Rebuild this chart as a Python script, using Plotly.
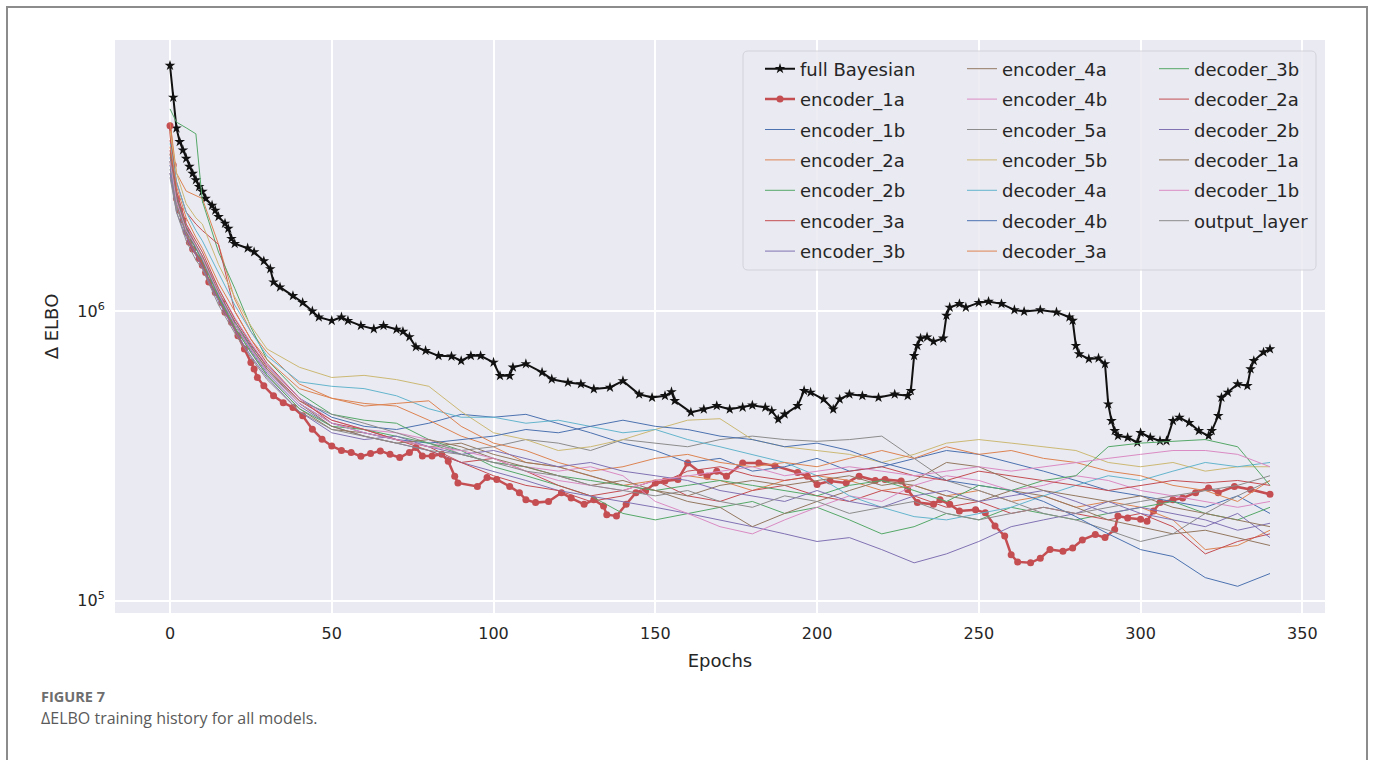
import plotly.graph_objects as go

# ---------------- data ----------------
# full Bayesian (epoch, value)
fb_epochs = [0, 1, 2, 3, 4, 5, 6, 7, 8, 9, 10, 11, 13, 14, 15, 17, 18, 19, 20, 24, 26, 29, 31, 32, 34, 38, 41, 44, 46,
             50, 53, 55, 59, 63, 66, 70, 72, 74, 76, 79, 83, 87, 90, 93, 96, 100, 102, 105, 106, 110, 115, 118, 123,
             127, 131, 136, 140, 145, 149, 153, 155, 156, 161, 165, 169, 173, 177, 180, 184, 186, 188, 190, 194, 196,
             198, 202, 205, 207, 210, 214, 219, 224, 228, 229, 230, 231, 232, 234, 236, 239, 240, 241, 244, 246, 250,
             253, 257, 261, 264, 269, 274, 278, 279, 280, 281, 284, 287, 289, 290, 291, 292, 293, 296, 299, 300, 303,
             306, 308, 310, 312, 315, 318, 321, 322, 324, 325, 327, 330, 333, 334, 335, 338, 340]
fb_values = [7.06e6, 5.48e6, 4.29e6, 3.85e6, 3.60e6, 3.37e6, 3.16e6, 2.99e6, 2.84e6, 2.69e6, 2.59e6, 2.45e6, 2.32e6,
             2.23e6, 2.12e6, 2.01e6, 1.93e6, 1.78e6, 1.71e6, 1.65e6, 1.60e6, 1.49e6, 1.40e6, 1.26e6, 1.21e6, 1.13e6,
             1.07e6, 1.00e6, 9.53e5, 9.27e5, 9.53e5, 9.27e5, 8.91e5, 8.68e5, 8.91e5, 8.65e5, 8.50e5, 8.15e5, 7.52e5,
             7.30e5, 7.01e5, 6.98e5, 6.74e5, 7.01e5, 7.01e5, 6.65e5, 5.98e5, 5.98e5, 6.40e5, 6.57e5, 6.14e5, 5.82e5,
             5.67e5, 5.60e5, 5.38e5, 5.45e5, 5.74e5, 5.16e5, 5.03e5, 5.10e5, 5.26e5, 4.90e5, 4.47e5, 4.58e5, 4.71e5,
             4.58e5, 4.65e5, 4.73e5, 4.65e5, 4.52e5, 4.23e5, 4.40e5, 4.71e5, 5.31e5, 5.24e5, 4.96e5, 4.58e5, 4.96e5,
             5.16e5, 5.10e5, 5.03e5, 5.16e5, 5.10e5, 5.31e5, 7.01e5, 7.60e5, 8.06e5, 8.13e5, 7.85e5, 8.06e5, 9.66e5,
             1.03e6, 1.06e6, 1.03e6, 1.07e6, 1.08e6, 1.06e6, 1.01e6, 9.97e5, 1.01e6, 9.92e5, 9.53e5, 9.28e5, 7.60e5,
             7.11e5, 6.84e5, 6.88e5, 6.57e5, 4.77e5, 4.18e5, 3.86e5, 3.71e5, 3.66e5, 3.52e5, 3.80e5, 3.66e5, 3.56e5,
             3.56e5, 4.18e5, 4.29e5, 4.12e5, 3.86e5, 3.71e5, 3.86e5, 4.35e5, 5.03e5, 5.24e5, 5.60e5, 5.52e5, 6.31e5,
             6.74e5, 7.21e5, 7.40e5]

# encoder_1a (epoch, value)
e1a_epochs = [0, 1, 2, 3, 4, 5, 6, 7, 9, 10, 11, 12, 14, 16, 17, 19, 21, 23, 25, 26, 27, 29, 32, 35, 38, 41, 44, 47,
              50, 53, 56, 59, 62, 65, 68, 71, 74, 76, 78, 81, 84, 86, 88, 89, 95, 98, 101, 105, 108, 110, 113, 117,
              121, 124, 128, 131, 134, 135, 138, 141, 144, 147, 150, 153, 157, 160, 164, 166, 169, 172, 177, 182, 187,
              194, 197, 200, 204, 209, 213, 218, 221, 226, 228, 231, 236, 238, 241, 244, 249, 252, 255, 258, 260, 262,
              266, 269, 272, 276, 279, 282, 286, 289, 292, 293, 296, 300, 302, 304, 306, 310, 313, 317, 321, 324, 329,
              334, 340]
e1a_values = [4.37e6, 3.20e6, 2.45e6, 2.23e6, 2.06e6, 1.88e6, 1.73e6, 1.64e6, 1.52e6, 1.44e6, 1.36e6, 1.26e6, 1.16e6,
              1.07e6, 9.92e5, 9.16e5, 8.23e5, 7.40e5, 6.65e5, 6.31e5, 5.90e5, 5.52e5, 5.10e5, 4.83e5, 4.65e5, 4.35e5,
              3.91e5, 3.61e5, 3.42e5, 3.30e5, 3.25e5, 3.15e5, 3.22e5, 3.29e5, 3.20e5, 3.12e5, 3.25e5, 3.38e5, 3.16e5,
              3.16e5, 3.20e5, 3.03e5, 2.69e5, 2.55e5, 2.48e5, 2.66e5, 2.62e5, 2.48e5, 2.36e5, 2.23e5, 2.18e5, 2.20e5,
              2.36e5, 2.26e5, 2.15e5, 2.23e5, 2.12e5, 1.98e5, 1.96e5, 2.15e5, 2.36e5, 2.39e5, 2.55e5, 2.59e5, 2.62e5,
              2.99e5, 2.77e5, 2.69e5, 2.80e5, 2.69e5, 2.99e5, 2.99e5, 2.92e5, 2.77e5, 2.69e5, 2.52e5, 2.59e5, 2.55e5,
              2.69e5, 2.60e5, 2.62e5, 2.59e5, 2.42e5, 2.18e5, 2.15e5, 2.23e5, 2.15e5, 2.04e5, 2.06e5, 2.01e5, 1.81e5,
              1.67e5, 1.44e5, 1.36e5, 1.35e5, 1.40e5, 1.50e5, 1.48e5, 1.52e5, 1.62e5, 1.69e5, 1.65e5, 1.76e5, 1.96e5,
              1.93e5, 1.91e5, 1.88e5, 2.04e5, 2.18e5, 2.23e5, 2.26e5, 2.36e5, 2.45e5, 2.36e5, 2.48e5, 2.42e5, 2.33e5]

# thin-line series share these epochs
thin_epochs = [0, 2, 5, 8, 10, 15, 20, 25, 30, 40,
               50, 60, 70, 80, 90, 100, 110, 120, 130, 140, 150, 160, 170, 180, 190, 200, 210, 220, 230, 240,
               250, 260, 270, 280, 290, 300, 310, 320, 330, 340]

encoder_1b = [3.4e6, 2.5e6, 1.95e6, 1.65e6, 1.5e6, 1.15e6, 9.2e5, 7.6e5, 6.5e5, 5.0e5,
              4.3e5, 4.0e5, 3.9e5, 4.1e5, 4.4e5, 4.3e5, 4.4e5, 4.1e5, 3.8e5, 3.5e5, 3.3e5, 3.0e5, 3.1e5, 2.8e5, 2.9e5,
              3.1e5, 2.8e5, 2.9e5, 3.1e5, 3.3e5, 3.2e5, 3.0e5, 2.8e5, 2.6e5, 2.4e5, 2.3e5, 2.2e5, 2.1e5, 2.3e5, 2.0e5]
encoder_2a = [4.5e6, 3.0e6, 2.6e6, 2.5e6, 2.45e6, 1.7e6, 1.1e6, 8.5e5, 7.2e5, 5.6e5,
              5.0e5, 4.8e5, 4.7e5, 4.2e5, 3.7e5, 3.4e5, 3.0e5, 2.9e5, 2.7e5, 2.5e5, 2.6e5, 2.7e5, 2.6e5, 2.4e5, 2.6e5,
              2.7e5, 2.6e5, 2.4e5, 2.5e5, 2.3e5, 2.4e5, 2.2e5, 2.3e5, 2.1e5, 2.2e5, 2.1e5, 1.9e5, 1.5e5, 1.55e5, 1.75e5]
encoder_2b = [5.0e6, 4.5e6, 4.3e6, 4.1e6, 2.4e6, 1.6e6, 1.2e6, 8.8e5, 6.8e5, 5.2e5,
              4.4e5, 4.2e5, 4.1e5, 3.6e5, 3.3e5, 2.9e5, 2.7e5, 2.5e5, 2.3e5, 2.0e5, 1.9e5, 2.0e5, 2.1e5, 2.2e5, 2.0e5,
              2.1e5, 1.9e5, 1.7e5, 1.8e5, 2.0e5, 1.9e5, 2.1e5, 2.0e5, 1.9e5, 2.0e5, 2.1e5, 2.2e5, 2.0e5, 1.9e5, 2.1e5]
encoder_3a = [3.9e6, 2.8e6, 2.2e6, 2.0e6, 1.9e6, 1.7e6, 1.0e6, 8.0e5, 6.6e5, 5.0e5,
              4.1e5, 3.9e5, 3.6e5, 3.4e5, 3.0e5, 3.1e5, 2.8e5, 2.5e5, 2.3e5, 2.4e5, 2.6e5, 2.3e5, 2.2e5, 2.4e5, 2.5e5,
              2.3e5, 2.2e5, 2.4e5, 2.3e5, 2.1e5, 2.2e5, 2.0e5, 2.1e5, 2.0e5, 1.9e5, 2.0e5, 1.8e5, 1.45e5, 1.6e5, 1.7e5]
encoder_3b = [3.3e6, 2.4e6, 1.9e6, 1.7e6, 1.55e6, 1.15e6, 9.0e5, 7.3e5, 6.1e5, 4.7e5,
              4.0e5, 3.7e5, 3.5e5, 3.3e5, 3.0e5, 2.8e5, 2.6e5, 2.4e5, 2.3e5, 2.2e5, 2.1e5, 2.0e5, 1.9e5, 1.8e5, 1.7e5,
              1.6e5, 1.65e5, 1.5e5, 1.35e5, 1.45e5, 1.6e5, 1.8e5, 1.9e5, 2.0e5, 2.2e5, 2.0e5, 1.9e5, 1.8e5, 2.0e5, 1.65e5]
encoder_4a = [3.0e6, 2.3e6, 1.85e6, 1.6e6, 1.45e6, 1.1e6, 8.8e5, 7.2e5, 6.0e5, 4.6e5,
              3.9e5, 3.8e5, 3.6e5, 3.4e5, 3.5e5, 3.2e5, 3.0e5, 2.9e5, 2.7e5, 2.5e5, 2.4e5, 2.2e5, 2.1e5, 1.8e5, 2.0e5,
              2.2e5, 2.4e5, 2.6e5, 2.5e5, 2.3e5, 2.2e5, 2.4e5, 2.3e5, 2.1e5, 1.9e5, 1.8e5, 1.7e5, 1.75e5, 1.65e5, 1.55e5]
encoder_4b = [3.5e6, 2.6e6, 2.0e6, 1.7e6, 1.55e6, 1.2e6, 9.5e5, 7.8e5, 6.5e5, 5.0e5,
              4.2e5, 3.9e5, 3.8e5, 3.6e5, 3.2e5, 3.0e5, 2.9e5, 2.8e5, 2.9e5, 2.7e5, 2.2e5, 2.0e5, 1.8e5, 1.7e5, 1.9e5,
              2.1e5, 2.3e5, 2.2e5, 2.5e5, 2.7e5, 2.6e5, 2.4e5, 2.5e5, 2.7e5, 2.6e5, 2.4e5, 2.3e5, 2.2e5, 2.1e5, 2.2e5]
encoder_5a = [3.1e6, 2.3e6, 1.85e6, 1.6e6, 1.5e6, 1.12e6, 9.0e5, 7.5e5, 6.3e5, 4.9e5,
              4.4e5, 4.1e5, 3.8e5, 3.5e5, 3.3e5, 3.4e5, 3.6e5, 3.5e5, 3.3e5, 3.6e5, 3.5e5, 3.4e5, 3.6e5, 3.7e5, 3.6e5,
              3.55e5, 3.6e5, 3.7e5, 3.1e5, 2.6e5, 2.4e5, 2.2e5, 2.0e5, 1.9e5, 1.75e5, 1.6e5, 1.7e5, 2.0e5, 2.3e5, 2.6e5]
encoder_5b = [4.2e6, 3.0e6, 2.35e6, 2.1e6, 2.0e6, 1.45e6, 1.12e6, 8.9e5, 7.4e5, 6.4e5,
              5.9e5, 6.0e5, 5.8e5, 5.5e5, 4.5e5, 3.8e5, 3.6e5, 3.3e5, 3.4e5, 3.6e5, 3.9e5, 4.2e5, 4.25e5, 3.6e5, 3.4e5,
              3.3e5, 3.2e5, 3.0e5, 3.2e5, 3.5e5, 3.6e5, 3.5e5, 3.4e5, 3.3e5, 3.0e5, 2.9e5, 3.0e5, 2.8e5, 2.9e5, 2.9e5]
decoder_4a = [3.8e6, 2.8e6, 2.2e6, 1.9e6, 1.75e6, 1.35e6, 1.05e6, 8.5e5, 7.0e5, 5.7e5,
              5.5e5, 5.4e5, 5.1e5, 4.6e5, 4.3e5, 4.3e5, 4.1e5, 4.2e5, 4.0e5, 3.8e5, 3.9e5, 3.6e5, 3.4e5, 3.2e5, 3.0e5,
              2.7e5, 2.3e5, 2.1e5, 1.95e5, 1.9e5, 2.0e5, 2.1e5, 2.3e5, 2.5e5, 2.7e5, 2.6e5, 2.8e5, 3.0e5, 2.9e5, 3.0e5]
decoder_4b = [3.2e6, 2.4e6, 1.9e6, 1.65e6, 1.5e6, 1.13e6, 9.0e5, 7.4e5, 6.2e5, 4.8e5,
              4.1e5, 3.8e5, 3.6e5, 3.5e5, 3.6e5, 3.7e5, 3.9e5, 3.8e5, 4.0e5, 4.2e5, 4.0e5, 3.9e5, 3.7e5, 3.6e5, 3.4e5,
              3.5e5, 3.3e5, 3.0e5, 2.8e5, 2.6e5, 2.5e5, 2.4e5, 2.2e5, 1.95e5, 1.7e5, 1.5e5, 1.42e5, 1.2e5, 1.12e5, 1.24e5]
decoder_3a = [3.7e6, 2.7e6, 2.1e6, 1.8e6, 1.65e6, 1.25e6, 1.0e6, 8.0e5, 6.8e5, 5.4e5,
              5.0e5, 4.7e5, 4.8e5, 4.9e5, 4.0e5, 3.5e5, 3.3e5, 3.0e5, 2.8e5, 2.9e5, 3.1e5, 3.2e5, 3.0e5, 2.9e5, 3.0e5,
              2.9e5, 3.1e5, 3.3e5, 3.1e5, 3.4e5, 3.2e5, 3.3e5, 3.1e5, 3.0e5, 2.8e5, 2.7e5, 2.5e5, 2.4e5, 2.2e5, 2.6e5]
decoder_3b = [3.3e6, 2.4e6, 1.9e6, 1.65e6, 1.5e6, 1.12e6, 8.8e5, 7.2e5, 6.0e5, 4.6e5,
              4.0e5, 3.9e5, 3.7e5, 3.5e5, 3.2e5, 3.0e5, 2.9e5, 2.7e5, 2.6e5, 2.5e5, 2.4e5, 2.5e5, 2.6e5, 2.5e5, 2.4e5,
              2.3e5, 2.5e5, 2.6e5, 2.4e5, 2.2e5, 2.5e5, 2.4e5, 2.6e5, 2.7e5, 3.4e5, 3.5e5, 3.55e5, 3.6e5, 3.4e5, 2.5e5]
decoder_2a = [3.6e6, 2.6e6, 2.0e6, 1.75e6, 1.6e6, 1.2e6, 9.4e5, 7.7e5, 6.4e5, 4.9e5,
              4.2e5, 3.9e5, 3.6e5, 3.3e5, 3.0e5, 2.7e5, 2.5e5, 2.4e5, 2.2e5, 2.3e5, 2.5e5, 2.8e5, 2.9e5, 2.7e5, 2.6e5,
              2.7e5, 2.8e5, 2.9e5, 2.7e5, 2.6e5, 2.8e5, 2.7e5, 2.6e5, 2.5e5, 2.4e5, 2.5e5, 2.6e5, 2.55e5, 2.6e5, 2.5e5]
decoder_2b = [3.0e6, 2.2e6, 1.8e6, 1.55e6, 1.42e6, 1.08e6, 8.6e5, 7.0e5, 5.9e5, 4.5e5,
              3.8e5, 3.6e5, 3.7e5, 3.4e5, 3.2e5, 3.3e5, 3.1e5, 2.9e5, 3.0e5, 2.8e5, 2.7e5, 2.6e5, 2.4e5, 2.3e5, 2.2e5,
              2.4e5, 2.2e5, 2.1e5, 2.3e5, 2.4e5, 2.2e5, 2.3e5, 2.4e5, 2.2e5, 2.0e5, 2.1e5, 2.0e5, 1.9e5, 1.75e5, 1.85e5]
decoder_1a = [3.5e6, 2.5e6, 1.95e6, 1.7e6, 1.55e6, 1.17e6, 9.2e5, 7.5e5, 6.3e5, 4.8e5,
              4.0e5, 3.7e5, 3.5e5, 3.6e5, 3.4e5, 3.1e5, 2.9e5, 2.7e5, 2.5e5, 2.6e5, 2.4e5, 2.3e5, 2.5e5, 2.6e5, 2.5e5,
              2.6e5, 2.7e5, 2.5e5, 2.6e5, 3.0e5, 2.9e5, 2.6e5, 2.4e5, 2.3e5, 2.2e5, 2.3e5, 2.1e5, 2.0e5, 1.9e5, 1.8e5]
decoder_1b = [3.3e6, 2.4e6, 1.9e6, 1.68e6, 1.52e6, 1.15e6, 9.0e5, 7.4e5, 6.2e5, 4.8e5,
              4.1e5, 3.8e5, 3.6e5, 3.4e5, 3.3e5, 3.1e5, 2.8e5, 2.6e5, 2.5e5, 2.4e5, 2.6e5, 2.7e5, 2.8e5, 2.9e5, 2.7e5,
              2.8e5, 2.9e5, 2.8e5, 2.7e5, 2.8e5, 2.9e5, 2.8e5, 2.9e5, 3.0e5, 3.1e5, 3.2e5, 3.3e5, 3.3e5, 3.2e5, 2.9e5]
output_layer = [2.9e6, 2.2e6, 1.75e6, 1.5e6, 1.4e6, 1.05e6, 8.4e5, 6.9e5, 5.8e5, 4.5e5,
                3.9e5, 3.7e5, 3.5e5, 3.3e5, 3.2e5, 3.0e5, 2.8e5, 2.7e5, 2.5e5, 2.4e5, 2.3e5, 2.4e5, 2.2e5, 2.1e5, 2.3e5,
                2.2e5, 2.0e5, 2.1e5, 2.2e5, 2.0e5, 1.9e5, 2.0e5, 2.1e5, 2.0e5, 2.1e5, 2.2e5, 2.3e5, 2.4e5, 2.5e5, 2.7e5]

thin_names = ["encoder_1b", "encoder_2a", "encoder_2b", "encoder_3a", "encoder_3b", "encoder_4a", "encoder_4b",
              "encoder_5a", "encoder_5b", "decoder_4a", "decoder_4b", "decoder_3a", "decoder_3b", "decoder_2a",
              "decoder_2b", "decoder_1a", "decoder_1b", "output_layer"]
thin_series = [encoder_1b, encoder_2a, encoder_2b, encoder_3a, encoder_3b, encoder_4a, encoder_4b, encoder_5a,
               encoder_5b, decoder_4a, decoder_4b, decoder_3a, decoder_3b, decoder_2a, decoder_2b, decoder_1a,
               decoder_1b, output_layer]
palette = ["#4C72B0", "#DD8452", "#55A868", "#C44E52", "#8172B3", "#937860", "#DA8BC3", "#8C8C8C", "#CCB974",
           "#64B5CD"]

x_ticks = [0, 50, 100, 150, 200, 250, 300, 350]
y_ticks = [1e5, 1e6]
y_ticktext = ["10<sup>5</sup>", "10<sup>6</sup>"]

# ---------------- figure ----------------
W, H = 1373, 760
L, R, T, B = 115, 48, 40, 147
PW, PH = W - L - R, H - T - B


def px(xp):
    return (xp - L) / PW


def py(yp):
    return (H - B - yp) / PH


FONT = "DejaVu Sans"
TXT = "#262626"
LEG_FS = 18

fig = go.Figure()

fig.add_trace(go.Scatter(x=fb_epochs, y=fb_values, name="full Bayesian", mode="lines+markers",
                         line=dict(color="#111111", width=2),
                         marker=dict(symbol="star", size=8, color="#111111"),
                         legend="legend", legendgroup="g0"))
fig.add_trace(go.Scatter(x=e1a_epochs, y=e1a_values, name="encoder_1a", mode="lines+markers",
                         line=dict(color="#C44E52", width=2.5),
                         marker=dict(symbol="circle", size=7, color="#C44E52"),
                         legend="legend", legendgroup="g1"))

for i, (nm, vals) in enumerate(zip(thin_names, thin_series)):
    idx = i + 2  # overall legend position
    leg = "legend" if idx < 7 else ("legend2" if idx < 14 else "legend3")
    fig.add_trace(go.Scatter(x=thin_epochs, y=vals, name=nm, mode="lines",
                             line=dict(color=palette[i % 10], width=1.0),
                             legend=leg, legendgroup="g%d" % idx))

row1 = 68.5
leg_top = py(row1 - 18)
legend_common = dict(bgcolor="rgba(0,0,0,0)", borderwidth=0, font=dict(family=FONT, size=LEG_FS, color=TXT),
                     yanchor="top", xanchor="left", y=leg_top, tracegroupgap=4, orientation="v")

# legend frame (rounded rectangle)
x0, x1, yb, yt = px(743), px(1316), py(270), py(51)
rx, ry = 5 / PW, 5 / PH
frame_path = (f"M {x0 + rx},{yt} L {x1 - rx},{yt} Q {x1},{yt} {x1},{yt - ry} L {x1},{yb + ry} "
              f"Q {x1},{yb} {x1 - rx},{yb} L {x0 + rx},{yb} Q {x0},{yb} {x0},{yb + ry} "
              f"L {x0},{yt - ry} Q {x0},{yt} {x0 + rx},{yt} Z")
fig.add_shape(type="path", xref="paper", yref="paper", path=frame_path,
              fillcolor="#EAEAF2", line=dict(color="#D0D0D8", width=1), opacity=0.85, layer="above")
# outer figure frame
fig.add_shape(type="rect", xref="paper", yref="paper", x0=px(7), x1=px(1367), y0=py(800), y1=py(7),
              line=dict(color="#8C8C8C", width=2), fillcolor="rgba(0,0,0,0)", layer="below")

fig.add_annotation(text="<b>FIGURE 7</b>", xref="paper", yref="paper", x=px(39), y=py(696), xanchor="left",
                   yanchor="middle", showarrow=False, font=dict(family="Open Sans", size=14.5, color="#6E6E6E"))
fig.add_annotation(text="ΔELBO training history for all models.", xref="paper", yref="paper", x=px(39), y=py(718),
                   xanchor="left", yanchor="middle", showarrow=False,
                   font=dict(family="Open Sans", size=16, color="#5A5A5A"))

fig.update_layout(
    width=W, height=H,
    margin=dict(l=L, r=R, t=T, b=B, autoexpand=False),
    paper_bgcolor="white", plot_bgcolor="#EAEAF2",
    font=dict(family=FONT, color=TXT),
    showlegend=True,
    legend=dict(legend_common, x=px(760)),
    legend2=dict(legend_common, x=px(962)),
    legend3=dict(legend_common, x=px(1154)),
    xaxis=dict(range=[-17, 357], tickvals=x_ticks, showgrid=True, gridcolor="white", gridwidth=1.5,
               zeroline=False, showline=False, ticks="outside", ticklen=6, tickcolor="rgba(0,0,0,0)",
               tickfont=dict(family=FONT, size=16, color=TXT),
               title=dict(text="Epochs", font=dict(family=FONT, size=18, color=TXT), standoff=12)),
    yaxis=dict(type="log", range=[4.957, 6.937], tickvals=y_ticks, ticktext=y_ticktext, showgrid=True,
               gridcolor="white", gridwidth=1.5, zeroline=False, showline=False, ticks="outside", ticklen=6,
               tickcolor="rgba(0,0,0,0)", tickfont=dict(family=FONT, size=16, color=TXT),
               title=dict(text="Δ ELBO", font=dict(family=FONT, size=18, color=TXT), standoff=14)),
)

fig.write_html("out.html", config={"displayModeBar": False},
               post_script="document.body.style.margin='0px';")
